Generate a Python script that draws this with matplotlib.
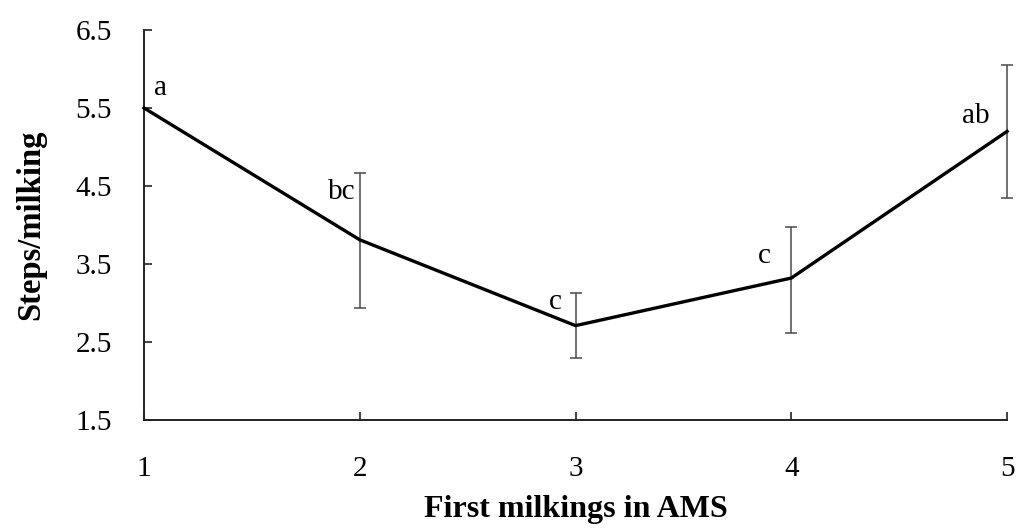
import numpy as np
import matplotlib
matplotlib.use("Agg")
import matplotlib.pyplot as plt

# data
milkings = [1, 2, 3, 4, 5]
steps = [5.50, 3.81, 2.71, 3.32, 5.20]
err_low = [0.0, 0.87, 0.42, 0.70, 0.85]
err_high = [0.0, 0.86, 0.42, 0.66, 0.85]
letters = ["a", "bc", "c", "c", "ab"]
letter_offsets = [(17, 20), (-18, 48), (-20, 24), (-27, 22), (-31, 15)]

plt.rcParams['font.family'] = ['Liberation Serif', 'DejaVu Serif']

fig = plt.figure(figsize=(10.19, 5.30), dpi=100)
ax = fig.add_axes([0.1413, 0.2075, 0.847, 0.736])

ax.plot(milkings, steps, color='black', lw=2.4, zorder=3, clip_on=False)
ax.errorbar(milkings[1:], steps[1:], yerr=[err_low[1:], err_high[1:]],
            fmt='none', ecolor='#4a4a4a', elinewidth=1.1, capsize=4.5,
            capthick=1.1, zorder=2, clip_on=False)

for x, y, t, off in zip(milkings, steps, letters, letter_offsets):
    ax.annotate(t, (x, y), xytext=off, textcoords='offset pixels',
                ha='center', va='center', fontsize=21)

ax.set_xlim(1, 5)
ax.set_ylim(1.5, 6.5)
ax.set_xticks(milkings)
ax.set_yticks([1.5, 2.5, 3.5, 4.5, 5.5, 6.5])
ax.set_yticklabels(["1.5", "2.5", "3.5", "4.5", "5.5", "6.5"])

for s in ['top', 'right']:
    ax.spines[s].set_visible(False)
for s in ['left', 'bottom']:
    ax.spines[s].set_linewidth(1.4)
    ax.spines[s].set_color('#222222')

ax.tick_params(axis='both', direction='in', length=6, width=1.2,
               color='#222222', labelsize=21)
ax.tick_params(axis='y', pad=23)
ax.tick_params(axis='x', pad=26)

ax.set_xlabel("First milkings in AMS", fontsize=23, fontweight='bold', labelpad=9)
ax.set_ylabel("Steps/milking", fontsize=23.5, fontweight='bold', labelpad=21)

fig.savefig("out.png", dpi=100)
